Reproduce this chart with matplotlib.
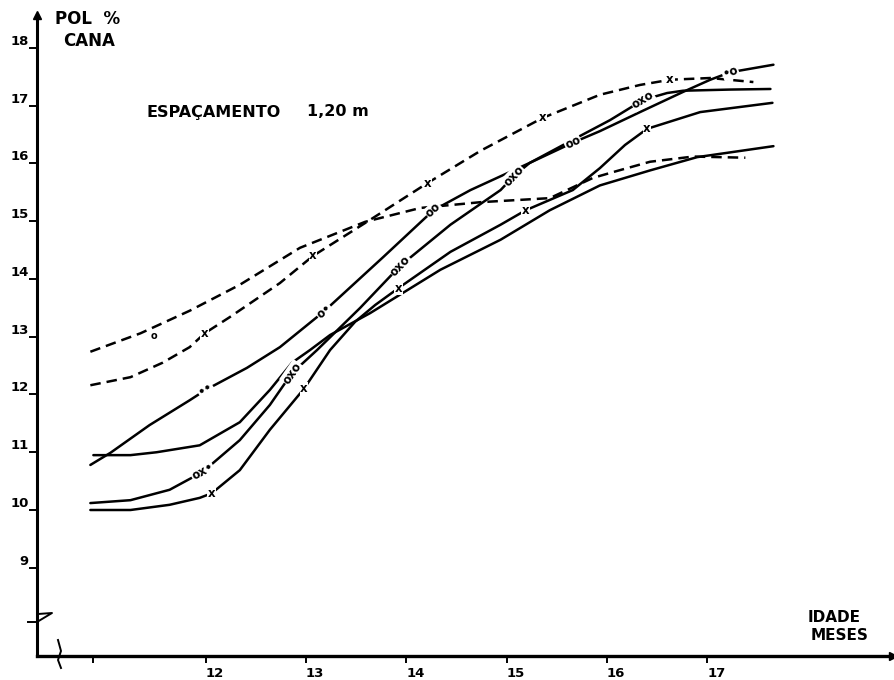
import numpy as np
import matplotlib
matplotlib.use("Agg")
import matplotlib.pyplot as plt
from matplotlib.transforms import IdentityTransform

# ---- curves: age (months) vs POL % cana ----
dash_a_month = [10.85, 11.35, 11.84, 12.34, 12.94, 13.59, 14.14, 14.74, 15.43, 15.86, 16.10, 16.43, 16.86, 17.38]
dash_a_pol = [12.74, 13.06, 13.45, 13.90, 14.54, 14.99, 15.23, 15.33, 15.40, 15.75, 15.87, 16.03, 16.12, 16.10]

dash_b_month = [10.85, 11.25, 11.57, 11.84, 11.99, 12.24, 12.74, 13.07, 13.59, 14.21, 14.74, 15.36, 15.93, 16.33, 16.63, 17.03, 17.46]
dash_b_pol = [12.16, 12.30, 12.55, 12.82, 13.06, 13.34, 13.93, 14.40, 14.97, 15.66, 16.22, 16.79, 17.19, 17.36, 17.45, 17.48, 17.41]

s1_month = [10.85, 11.05, 11.44, 11.84, 12.00, 12.41, 12.74, 13.18, 13.77, 14.27, 14.64, 15.23, 15.66, 15.93, 16.33, 16.76, 17.03, 17.23, 17.66]
s1_pol = [10.78, 10.99, 11.47, 11.90, 12.08, 12.46, 12.82, 13.44, 14.38, 15.19, 15.54, 16.01, 16.36, 16.56, 16.89, 17.24, 17.45, 17.58, 17.71]

s2_month = [10.85, 11.25, 11.64, 11.97, 12.34, 12.64, 12.86, 13.11, 13.54, 13.94, 14.44, 14.94, 15.07, 15.23, 15.66, 16.03, 16.36, 16.60, 16.76, 17.23, 17.63]
s2_pol = [10.12, 10.17, 10.35, 10.66, 11.21, 11.82, 12.37, 12.77, 13.50, 14.23, 14.94, 15.54, 15.78, 16.01, 16.41, 16.75, 17.10, 17.22, 17.26, 17.28, 17.29]

s3_month = [10.85, 11.25, 11.64, 11.94, 12.06, 12.34, 12.64, 12.98, 13.24, 13.49, 13.69, 13.92, 14.44, 14.94, 15.19, 15.66, 15.93, 16.18, 16.40, 16.93, 17.65]
s3_pol = [10.00, 10.00, 10.09, 10.21, 10.29, 10.69, 11.39, 12.10, 12.77, 13.26, 13.55, 13.84, 14.47, 14.94, 15.19, 15.54, 15.92, 16.32, 16.60, 16.89, 17.05]

s4_month = [10.88, 11.25, 11.51, 11.94, 12.34, 12.64, 12.86, 13.04, 13.24, 13.64, 14.34, 14.94, 15.43, 15.93, 16.43, 16.90, 17.66]
s4_pol = [10.95, 10.95, 11.00, 11.12, 11.52, 12.08, 12.55, 12.77, 13.03, 13.41, 14.16, 14.68, 15.19, 15.62, 15.88, 16.11, 16.30]

# ---- point symbols sitting on the curves ----
dash_b_mark_month = [11.99, 13.07, 14.21, 15.36, 16.63]
dash_b_mark_pol = [13.06, 14.40, 15.66, 16.79, 17.45]
dash_b_mark_text = ["x", "x", "x", "x", "x"]

s1_mark_month = [12.00, 13.18, 14.27, 15.66, 17.23]
s1_mark_pol = [12.08, 13.44, 15.19, 16.36, 17.58]
s1_mark_text = ["\u2022\u2022", "o\u2022", "oo", "oo", "\u2022o"]

s2_mark_month = [11.97, 12.86, 13.94, 15.07, 16.36]
s2_mark_pol = [10.66, 12.37, 14.23, 15.78, 17.10]
s2_mark_text = ["ox\u2022", "oxo", "oxo", "oxo", "oxo"]

s3_mark_month = [12.06, 12.98, 13.92, 15.19, 16.40]
s3_mark_pol = [10.29, 12.10, 13.84, 15.19, 16.60]
s3_mark_text = ["x", "x", "x", "x", "x"]

lone_month = [11.48]
lone_pol = [13.01]

x_ticks = [10.88, 12, 13, 14, 15, 16, 17]
x_tick_labels = ["", "12", "13", "14", "15", "16", "17"]
y_ticks = [9, 10, 11, 12, 13, 14, 15, 16, 17, 18]
y_tick_labels = ["9", "10", "11", "12", "13", "14", "15", "16", "17", "18"]

W, H = 895, 680
fig = plt.figure(figsize=(W / 100, H / 100), dpi=100)
ax = fig.add_axes([37 / W, 1 - 656 / H, (893 - 37) / W, (656 - 15) / H])
ax.set_xlim(10.318, 18.852)
ax.set_ylim(7.472, 18.571)

for side in ("top", "right"):
    ax.spines[side].set_visible(False)
ax.spines["left"].set_linewidth(2.2)
ax.spines["bottom"].set_linewidth(2.4)

ax.set_yticks(y_ticks)
ax.set_yticklabels(y_tick_labels)
ax.set_xticks(x_ticks)
ax.set_xticklabels(x_tick_labels)
ax.tick_params(axis="y", direction="out", length=6, width=1.4, pad=0, labelsize=9.5)
ax.tick_params(axis="x", direction="out", length=5, width=1.4, pad=3, labelsize=9.5)
for lbl in ax.get_yticklabels():
    lbl.set_fontweight("bold")
    lbl.set_verticalalignment("bottom")
for lbl in ax.get_xticklabels():
    lbl.set_fontweight("bold")
    lbl.set_horizontalalignment("left")

# axis arrow heads
ax.plot([0], [1], marker="^", color="black", ms=6, transform=ax.transAxes, clip_on=False)
ax.plot([1], [0], marker=">", color="black", ms=6, transform=ax.transAxes, clip_on=False)


def px(points):
    xs = [p[0] for p in points]
    ys = [H - p[1] for p in points]
    return xs, ys


# axis break symbols
bx, by = px([(28, 622), (37, 622), (52, 613), (38, 614)])
ax.plot(bx, by, color="black", lw=1.4, transform=IdentityTransform(), clip_on=False)
bx, by = px([(58, 640), (61, 651), (58, 660), (61, 668)])
ax.plot(bx, by, color="black", lw=1.4, transform=IdentityTransform(), clip_on=False)

lw = 1.8
dash = (0, (4.2, 2.4))
ax.plot(dash_a_month, dash_a_pol, color="black", lw=lw, ls=dash)
ax.plot(dash_b_month, dash_b_pol, color="black", lw=lw, ls=dash)
for xs, ys in ((s1_month, s1_pol), (s2_month, s2_pol), (s3_month, s3_pol), (s4_month, s4_pol)):
    ax.plot(xs, ys, color="black", lw=lw, solid_capstyle="round", solid_joinstyle="round")

fig.canvas.draw()


def line_angle(xs, ys, x0):
    i = int(np.clip(np.searchsorted(xs, x0), 1, len(xs) - 1))
    p0 = ax.transData.transform((xs[i - 1], ys[i - 1]))
    p1 = ax.transData.transform((xs[i], ys[i]))
    return np.degrees(np.arctan2(p1[1] - p0[1], p1[0] - p0[0]))


def put_marks(cx, cy, mx, my, texts):
    for x0, y0, t in zip(mx, my, texts):
        ang = line_angle(cx, cy, x0) if len(t) > 1 else 0
        ax.text(x0, y0, t, ha="center", va="center", rotation=ang, rotation_mode="anchor",
                fontsize=8.5, fontweight="bold", color="black",
                bbox=dict(facecolor="white", edgecolor="none", pad=0.4), zorder=5)


put_marks(dash_b_month, dash_b_pol, dash_b_mark_month, dash_b_mark_pol, dash_b_mark_text)
put_marks(s1_month, s1_pol, s1_mark_month, s1_mark_pol, s1_mark_text)
put_marks(s2_month, s2_pol, s2_mark_month, s2_mark_pol, s2_mark_text)
put_marks(s3_month, s3_pol, s3_mark_month, s3_mark_pol, s3_mark_text)
ax.text(lone_month[0], lone_pol[0], "o", ha="center", va="center", fontsize=7, fontweight="bold")

# titles and axis names
fkw = dict(fontweight="bold", color="black")
fig.text(55 / W, 1 - 19 / H, "POL  %", ha="left", va="center", fontsize=12, **fkw)
fig.text(63 / W, 1 - 41 / H, "CANA", ha="left", va="center", fontsize=12, **fkw)
fig.text(147 / W, 1 - 112 / H, "ESPAÇAMENTO", ha="left", va="center", fontsize=11.5, **fkw)
fig.text(307 / W, 1 - 112 / H, "1,20 m", ha="left", va="center", fontsize=11.5, **fkw)
fig.text(808 / W, 1 - 618 / H, "IDADE", ha="left", va="center", fontsize=11, **fkw)
fig.text(811 / W, 1 - 636 / H, "MESES", ha="left", va="center", fontsize=11, **fkw)

fig.savefig("out.png", dpi=100, facecolor="white")
